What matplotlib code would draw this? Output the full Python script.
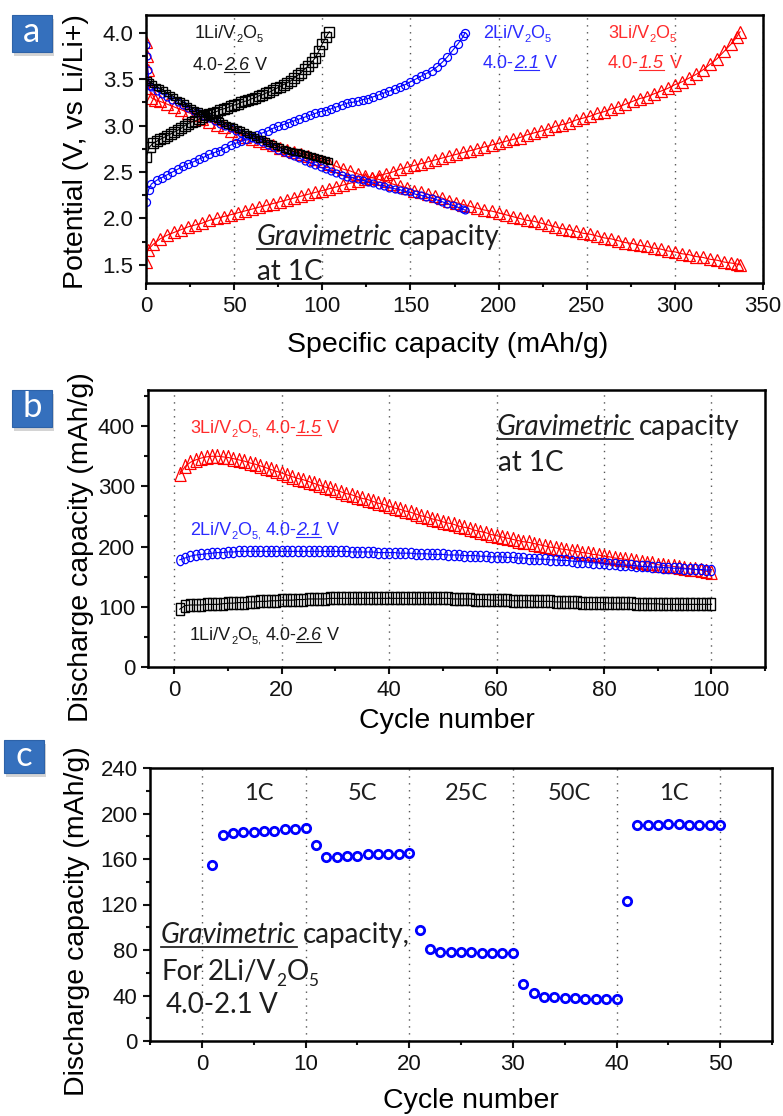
import matplotlib
matplotlib.use('Agg')
import math
import matplotlib.pyplot as plt
from matplotlib.ticker import MultipleLocator, FormatStrFormatter
from matplotlib.lines import Line2D
from matplotlib.patches import Rectangle

plt.rcParams['font.family'] = ['Liberation Sans', 'DejaVu Sans']

# ---------------- data: panel a (potential vs specific capacity) ----------------
a_blk_chg_x = list(range(0, 105, 2))
a_blk_chg_v = [2.66, 2.77, 2.81, 2.83, 2.85, 2.87, 2.89, 2.91, 2.93, 2.95, 2.97, 3.00, 3.02,
               3.04, 3.05, 3.07, 3.09, 3.11, 3.12, 3.14, 3.15, 3.17, 3.18, 3.19, 3.21, 3.22,
               3.23, 3.25, 3.26, 3.27, 3.29, 3.30, 3.32, 3.33, 3.35, 3.36, 3.38, 3.40, 3.42,
               3.44, 3.46, 3.48, 3.51, 3.54, 3.57, 3.61, 3.64, 3.68, 3.73, 3.80, 3.88, 3.95, 4.01]
a_blk_dis_x = [1] + list(range(2, 105, 2))
a_blk_dis_v = [3.49, 3.47, 3.45, 3.42, 3.40, 3.38, 3.35, 3.33, 3.31, 3.28, 3.26, 3.24, 3.21,
               3.19, 3.17, 3.16, 3.14, 3.12, 3.10, 3.08, 3.07, 3.05, 3.03, 3.01, 3.00, 2.98,
               2.96, 2.95, 2.93, 2.91, 2.90, 2.88, 2.86, 2.85, 2.83, 2.81, 2.80, 2.78, 2.77,
               2.75, 2.74, 2.73, 2.72, 2.71, 2.70, 2.69, 2.68, 2.67, 2.66, 2.65, 2.64, 2.63, 2.62]

a_blu_chg_x = [0, 1.5] + list(range(3, 181, 3)) + [181]
a_blu_chg_v = [2.18, 2.31,
               2.37, 2.41, 2.44, 2.47, 2.50, 2.53, 2.56, 2.59, 2.61, 2.64, 2.66, 2.69, 2.71, 2.73,
               2.76, 2.79, 2.81, 2.83, 2.86, 2.88, 2.90, 2.92, 2.94, 2.97, 2.99, 3.01, 3.03, 3.05,
               3.07, 3.09, 3.11, 3.13, 3.15, 3.16, 3.18, 3.20, 3.22, 3.24, 3.25, 3.26, 3.28, 3.29,
               3.31, 3.33, 3.35, 3.37, 3.39, 3.42, 3.44, 3.47, 3.50, 3.53, 3.56, 3.59, 3.63, 3.68,
               3.74, 3.81, 3.88, 3.96,
               4.00]
a_blu_dis_x = [0, 0.5, 1, 2] + list(range(3, 181, 3)) + [181]
a_blu_dis_v = [3.87, 3.75, 3.60, 3.43,
               3.41, 3.37, 3.34, 3.31, 3.28, 3.25, 3.22, 3.19, 3.16, 3.13, 3.10, 3.08, 3.05, 3.02,
               3.00, 2.97, 2.94, 2.92, 2.89, 2.87, 2.84, 2.82, 2.79, 2.77, 2.74, 2.72, 2.69, 2.67,
               2.65, 2.62, 2.60, 2.58, 2.55, 2.53, 2.51, 2.49, 2.47, 2.45, 2.44, 2.42, 2.41, 2.39,
               2.38, 2.36, 2.35, 2.33, 2.32, 2.31, 2.29, 2.28, 2.26, 2.25, 2.23, 2.22, 2.20, 2.18,
               2.16, 2.14, 2.12, 2.10,
               2.09]

a_red_chg_x = [0, 1] + list(range(4, 333, 4)) + [335, 337]
a_red_chg_v = [1.53, 1.66,
               1.72, 1.78, 1.82, 1.85, 1.88, 1.91, 1.93, 1.95, 1.98, 2.00, 2.02, 2.04, 2.06, 2.08,
               2.10, 2.12, 2.14, 2.16, 2.18, 2.20, 2.22, 2.24, 2.26, 2.28, 2.30, 2.32, 2.34, 2.36,
               2.38, 2.40, 2.42, 2.44, 2.46, 2.48, 2.50, 2.53, 2.55, 2.57, 2.59, 2.61, 2.63, 2.65,
               2.67, 2.69, 2.71, 2.73, 2.75, 2.77, 2.79, 2.81, 2.83, 2.85, 2.87, 2.90, 2.92, 2.94,
               2.96, 2.99, 3.01, 3.03, 3.06, 3.08, 3.10, 3.13, 3.15, 3.18, 3.20, 3.23, 3.26, 3.29,
               3.31, 3.34, 3.37, 3.40, 3.44, 3.47, 3.51, 3.55, 3.60, 3.66, 3.72, 3.80, 3.88,
               3.95, 4.01]
a_red_dis_x = [0, 0.5, 1, 2, 3, 5] + list(range(8, 333, 4)) + [335, 337]
a_red_dis_v = [3.90, 3.75, 3.60, 3.40, 3.30, 3.28,
               3.26, 3.23, 3.20, 3.17, 3.14, 3.11, 3.07, 3.04, 3.01, 2.98, 2.94, 2.91, 2.88, 2.86,
               2.83, 2.81, 2.79, 2.76, 2.74, 2.71, 2.69, 2.67, 2.64, 2.62, 2.59, 2.56, 2.53, 2.51,
               2.48, 2.46, 2.44, 2.42, 2.40, 2.37, 2.35, 2.33, 2.30, 2.28, 2.26, 2.24, 2.22, 2.19,
               2.17, 2.15, 2.13, 2.11, 2.09, 2.08, 2.06, 2.04, 2.02, 2.00, 1.98, 1.97, 1.95, 1.93,
               1.91, 1.89, 1.88, 1.86, 1.84, 1.83, 1.81, 1.79, 1.78, 1.76, 1.74, 1.73, 1.71, 1.70,
               1.68, 1.67, 1.65, 1.64, 1.62, 1.61, 1.59, 1.58, 1.56, 1.55, 1.53, 1.52,
               1.51, 1.50]

# ---------------- data: panel b (cycling at 1C) ----------------
b_cycles = list(range(1, 101))
b_red = [320, 333, 340, 344, 347, 349, 350, 350, 349, 348,
         346, 344, 342, 339, 337, 334, 331, 328, 325, 322,
         319, 316, 313, 311, 308, 305, 302, 299, 297, 294,
         291, 288, 286, 283, 280, 278, 275, 272, 270, 267,
         264, 262, 259, 257, 254, 251, 249, 246, 244, 241,
         239, 237, 234, 232, 230, 227, 225, 223, 220, 218,
         216, 214, 212, 210, 208, 207, 205, 203, 201, 199,
         198, 196, 195, 193, 192, 190, 189, 187, 186, 184,
         183, 181, 180, 179, 177, 176, 175, 173, 172, 170,
         169, 168, 167, 166, 164, 163, 162, 161, 159, 158]
b_blue = [178, 181, 184, 186, 187, 188, 189, 190, 190, 191,
          191, 192, 192, 192, 192, 192, 192, 192, 192, 192,
          192, 192, 192, 192, 192, 192, 192, 192, 192, 192,
          192, 192, 191, 191, 191, 191, 191, 190, 190, 190,
          190, 189, 189, 189, 188, 188, 188, 187, 187, 187,
          186, 186, 186, 185, 185, 185, 184, 184, 183, 183,
          183, 182, 182, 181, 181, 180, 180, 179, 179, 178,
          178, 177, 177, 176, 175, 175, 174, 173, 173, 172,
          171, 171, 170, 169, 169, 168, 167, 167, 166, 166,
          165, 165, 164, 164, 163, 163, 162, 162, 161, 161]
b_black = [96, 102, 103, 103, 103, 104, 104, 104, 105, 106,
           106, 107, 107, 108, 108, 109, 109, 110, 110, 111,
           111, 111, 112, 112, 113, 113, 113, 113, 114, 114,
           114, 114, 114, 114, 114, 114, 114, 114, 114, 114,
           114, 114, 114, 114, 114, 114, 114, 114, 114, 114,
           114, 113, 113, 113, 113, 112, 112, 112, 111, 111,
           111, 111, 110, 110, 110, 110, 109, 109, 109, 109,
           108, 108, 108, 108, 108, 107, 107, 107, 107, 107,
           106, 106, 106, 106, 106, 105, 105, 105, 105, 105,
           104, 104, 104, 104, 104, 104, 104, 104, 104, 104]

# ---------------- data: panel c (rate capability) ----------------
c_cycles = list(range(1, 51))
c_cap = [155, 181, 183, 184, 184, 185, 185, 186, 186, 187,
         172, 162, 162, 163, 163, 164, 164, 164, 164, 165,
         98, 81, 78, 78, 78, 78, 77, 77, 77, 77,
         50, 42, 39, 39, 38, 38, 37, 37, 37, 37,
         123, 190, 190, 190, 191, 191, 190, 190, 190, 190]
c_rates = ['1C', '5C', '25C', '50C', '1C']
c_rate_pos = [5.5, 15.5, 25.5, 35.5, 45.5]

for xs, ys in [(a_blk_chg_x, a_blk_chg_v), (a_blk_dis_x, a_blk_dis_v),
               (a_blu_chg_x, a_blu_chg_v), (a_blu_dis_x, a_blu_dis_v),
               (a_red_chg_x, a_red_chg_v), (a_red_dis_x, a_red_dis_v),
               (b_cycles, b_red), (b_cycles, b_blue), (b_cycles, b_black),
               (c_cycles, c_cap)]:
    assert len(xs) == len(ys), (len(xs), len(ys))

# ---------------- figure ----------------
W, H = 783, 1116
DPI = 100
fig = plt.figure(figsize=(W / DPI, H / DPI), dpi=DPI)
renderer = fig.canvas.get_renderer()

BLK, BLU, RED = '#000000', '#0000ff', '#ff0000'
TBLK, TBLU, TRED = '#1a1a1a', '#2b2bff', '#ff2b2b'
TXT = '#1e1e1e'


def rect(l, t, r, b):
    return [l / W, (H - b) / H, (r - l) / W, (b - t) / H]


def px(x, y):
    return x / W, 1 - y / H


SPACE = {'Liberation Sans': 0.278, 'Lato': 0.2}


def rich(x, y, segs, size, color, family):
    em = size * DPI / 72
    cx = x
    for text, kind in segs:
        if text == ' ':
            cx += em * SPACE[family]
            continue
        fs = size * 0.62 if kind == 's' else size
        dy = em * 0.2 if kind == 's' else 0
        style = 'italic' if 'i' in kind else 'normal'
        t = fig.text(*px(cx, y + dy), text, fontsize=fs, color=color,
                     family=family, style=style, ha='left', va='baseline')
        w = t.get_window_extent(renderer).width
        if 'u' in kind:
            uy = y + em * 0.13
            fig.add_artist(Line2D([cx / W, (cx + w) / W], [1 - uy / H] * 2,
                                  transform=fig.transFigure, color=color,
                                  lw=max(0.8, size / 16)))
        cx += w + (1 if 'i' in kind else 0)


def style(ax):
    for s in ax.spines.values():
        s.set_linewidth(1.8)
    ax.tick_params(which='both', direction='out', width=1.5, labelsize=16,
                   pad=4, colors='#111111')
    ax.tick_params(which='major', length=5)
    ax.tick_params(which='minor', length=3)
    ax.grid(axis='x', which='major', linestyle=(0, (1, 4)), color='#555555', lw=1)
    ax.set_axisbelow(True)


# ---------- panel a ----------
axa = fig.add_axes(rect(146, 15, 763, 283))
style(axa)
axa.set_xlim(0, 350)
axa.set_ylim(1.305, 4.19)
axa.xaxis.set_major_locator(MultipleLocator(50))
axa.xaxis.set_minor_locator(MultipleLocator(25))
axa.yaxis.set_major_locator(MultipleLocator(0.5))
axa.yaxis.set_minor_locator(MultipleLocator(0.25))
axa.yaxis.set_major_formatter(FormatStrFormatter('%.1f'))

mk = dict(mfc='none', lw=0.8)
axa.plot(a_red_chg_x, a_red_chg_v, marker='^', color=RED, mec=RED, ms=8, mew=0.9, **mk)
axa.plot(a_red_dis_x, a_red_dis_v, marker='^', color=RED, mec=RED, ms=8, mew=0.9, **mk)
axa.plot(a_blu_chg_x, a_blu_chg_v, marker='o', color=BLU, mec=BLU, ms=5.8, mew=0.9, **mk)
axa.plot(a_blu_dis_x, a_blu_dis_v, marker='o', color=BLU, mec=BLU, ms=5, mew=0.9, **mk)
axa.plot(a_blk_chg_x, a_blk_chg_v, marker='s', color=BLK, mec=BLK, ms=6.5, mew=1.0, **mk)
axa.plot(a_blk_dis_x, a_blk_dis_v, marker='s', color=BLK, mec=BLK, ms=4.5, mew=1.0, **mk)

# ---------- panel b ----------
axb = fig.add_axes(rect(147.5, 390, 765, 667))
style(axb)
axb.set_xlim(-5, 110)
axb.set_ylim(0, 460)
axb.xaxis.set_major_locator(MultipleLocator(20))
axb.xaxis.set_minor_locator(MultipleLocator(10))
axb.yaxis.set_major_locator(MultipleLocator(100))
axb.yaxis.set_minor_locator(MultipleLocator(50))

tall_sq = [(-0.62, -1), (0.62, -1), (0.62, 1), (-0.62, 1), (-0.62, -1)]
tall_tri = [(-0.8, -1), (0.8, -1), (0, 1), (-0.8, -1)]
tall_ell = [(0.72 * math.cos(2 * math.pi * k / 24), math.sin(2 * math.pi * k / 24)) for k in range(25)]
axb.plot(b_cycles, b_red, marker=tall_tri, color=RED, mec=RED, ms=10, mew=0.9, **mk)
axb.plot(b_cycles, b_blue, marker=tall_ell, color=BLU, mec=BLU, ms=7.5, mew=0.9, **mk)
axb.plot(b_cycles, b_black, marker=tall_sq, color=BLK, mec=BLK, ms=8.5, mew=1.0, **mk)

# ---------- panel c ----------
axc = fig.add_axes(rect(150, 768, 772, 1041))
style(axc)
axc.set_xlim(-5, 55)
axc.set_ylim(0, 240)
axc.xaxis.set_major_locator(MultipleLocator(10))
axc.xaxis.set_minor_locator(MultipleLocator(5))
axc.yaxis.set_major_locator(MultipleLocator(40))
axc.yaxis.set_minor_locator(MultipleLocator(20))
axc.plot(c_cycles, c_cap, ls='none', marker='o', mfc='none', mec=BLU, ms=6, mew=2)
for lab, xp in zip(c_rates, c_rate_pos):
    axc.text(xp, 218, lab, ha='center', va='center', fontsize=17, family='Lato', color=TXT)

# ---------- axis labels ----------
LBL = 20.5
fig.text(*px(76, 152), 'Potential (V, vs Li/Li+)', rotation=90, ha='center', va='center', fontsize=LBL)
fig.text(*px(448, 352), 'Specific capacity (mAh/g)', ha='center', va='baseline', fontsize=LBL)
fig.text(*px(81, 547), 'Discharge capacity (mAh/g)', rotation=90, ha='center', va='center', fontsize=LBL)
fig.text(*px(447, 728), 'Cycle number', ha='center', va='baseline', fontsize=LBL)
fig.text(*px(77, 921), 'Discharge capacity (mAh/g)', rotation=90, ha='center', va='center', fontsize=LBL)
fig.text(*px(471, 1108), 'Cycle number', ha='center', va='baseline', fontsize=LBL)

# ---------- annotations panel a ----------
LS = 'Liberation Sans'
SZ = 13
rich(195, 38, [('1Li/V', 'n'), ('2', 's'), ('O', 'n'), ('5', 's')], SZ, TBLK, LS)
rich(193, 70, [('4.0-', 'n'), ('2.6', 'ui'), (' ', ''), ('V', 'n')], SZ, TBLK, LS)
rich(483, 38, [('2Li/V', 'n'), ('2', 's'), ('O', 'n'), ('5', 's')], SZ, TBLU, LS)
rich(483, 68, [('4.0-', 'n'), ('2.1', 'ui'), (' ', ''), ('V', 'n')], SZ, TBLU, LS)
rich(608, 38, [('3Li/V', 'n'), ('2', 's'), ('O', 'n'), ('5', 's')], SZ, TRED, LS)
rich(608, 68, [('4.0-', 'n'), ('1.5', 'ui'), (' ', ''), ('V', 'n')], SZ, TRED, LS)

GS = 20
rich(257, 245, [('Gravimetric', 'ui'), (' ', ''), ('capacity', 'n')], GS, TXT, 'Lato')
rich(257, 280, [('at 1C', 'n')], GS, TXT, 'Lato')

# ---------- annotations panel b ----------
rich(190, 433, [('3Li/V', 'n'), ('2', 's'), ('O', 'n'), ('5', 's'), (',', 's'), (' ', ''),
                ('4.0-', 'n'), ('1.5', 'ui'), (' ', ''), ('V', 'n')], SZ, TRED, LS)
rich(190, 535, [('2Li/V', 'n'), ('2', 's'), ('O', 'n'), ('5', 's'), (',', 's'), (' ', ''),
                ('4.0-', 'n'), ('2.1', 'ui'), (' ', ''), ('V', 'n')], SZ, TBLU, LS)
rich(190, 640, [('1Li/V', 'n'), ('2', 's'), ('O', 'n'), ('5', 's'), (',', 's'), (' ', ''),
                ('4.0-', 'n'), ('2.6', 'ui'), (' ', ''), ('V', 'n')], SZ, TBLK, LS)
rich(497, 435, [('Gravimetric', 'ui'), (' ', ''), ('capacity', 'n')], GS, TXT, 'Lato')
rich(498, 471, [('at 1C', 'n')], GS, TXT, 'Lato')

# ---------- annotations panel c ----------
rich(161, 943, [('Gravimetric', 'ui'), (' ', ''), ('capacity,', 'n')], GS, TXT, 'Lato')
rich(161, 980, [('For', 'n'), (' ', ''), ('2Li/V', 'n'), ('2', 's'), ('O', 'n'), ('5', 's')], GS, TXT, 'Lato')
rich(166, 1013, [('4.0-2.1', 'n'), (' ', ''), ('V', 'n')], GS, TXT, 'Lato')


# ---------- panel letters ----------
def letter_box(l, t, r, b, letter):
    sh = Rectangle(((l + 2) / W, 1 - (b + 4) / H), (r - l) / W, (b - t) / H,
                   transform=fig.transFigure, facecolor='#b8b8b8', edgecolor='none', alpha=0.6)
    fig.add_artist(sh)
    bx = Rectangle((l / W, 1 - b / H), (r - l) / W, (b - t) / H,
                   transform=fig.transFigure, facecolor='#3570bd', edgecolor='#2d62a8', lw=0.8)
    fig.add_artist(bx)
    fig.text(*px((l + r) / 2, (t + b) / 2 - 1), letter, ha='center', va='center',
             fontsize=25, color='white', family='Lato')


letter_box(12, 15, 52, 52, 'a')
letter_box(12, 390, 52, 427, 'b')
letter_box(4, 740, 44, 773, 'c')

fig.savefig('out.png', dpi=DPI)
